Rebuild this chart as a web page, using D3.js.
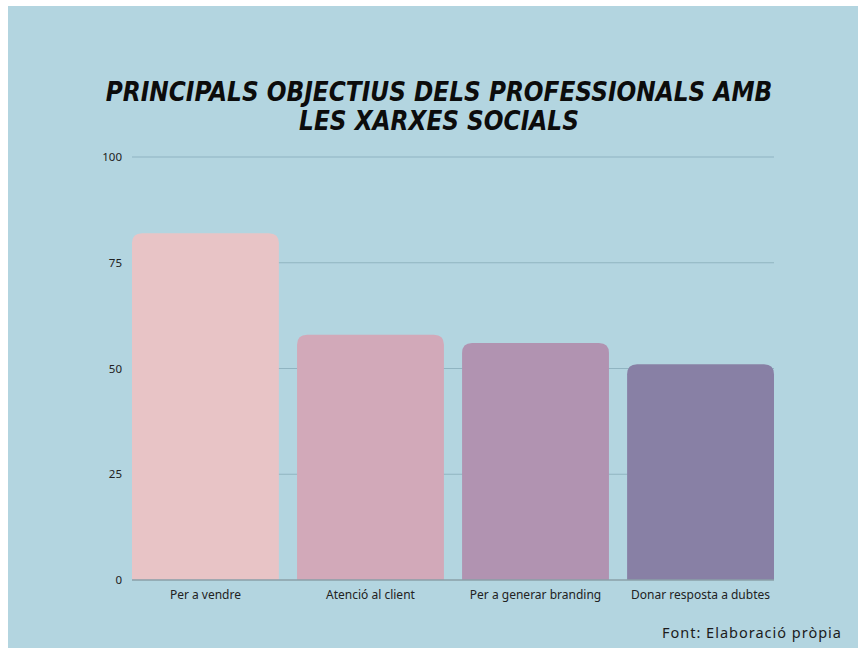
<!DOCTYPE html>
<html lang="ca">
<head>
  <meta charset="UTF-8">
  <title>Principals objectius dels professionals amb les xarxes socials</title>
  <script src="https://d3js.org/d3.v7.min.js"></script>
  <style>
    body {
      margin: 0;
      padding: 0;
      background: #fff;
      overflow: hidden;
    }
    svg { display: block; }
    .title {
      font-family: "DejaVu Sans Condensed", "DejaVu Sans", sans-serif;
      font-stretch: condensed;
      font-weight: bold;
      font-style: oblique;
      fill: #0c0c0c;
    }
    .tick-lbl, .cat-lbl {
      font-family: "Noto Sans", "Lato", sans-serif;
      fill: #222;
    }
    .source {
      font-family: "Noto Sans", "Lato", sans-serif;
      fill: #1c1c1c;
      letter-spacing: 1px;
    }
  </style>
</head>
<body>
<div id="chart"></div>
<script>
  const categories = ["Per a vendre", "Atenció al client", "Per a generar branding", "Donar resposta a dubtes"];
  const values = [82, 58, 56, 51];
  const barColors = ["#e8c4c6", "#d2a9b9", "#b193b1", "#8880a5"];
  const yTicks = [0, 25, 50, 75, 100];
  const titleLines = ["PRINCIPALS OBJECTIUS DELS PROFESSIONALS AMB", "LES XARXES SOCIALS"];

  const width = 858, height = 648;

  const svg = d3.select("#chart").append("svg")
    .attr("width", width)
    .attr("height", height);

  // blue panel (little white margin top/left)
  svg.append("rect")
    .attr("x", 8).attr("y", 6)
    .attr("width", width - 8).attr("height", height - 6)
    .attr("fill", "#b3d5e0");

  // title - size picked so the first line spans about 667px
  const titles = svg.selectAll(".title")
    .data(titleLines)
    .enter()
    .append("text")
    .attr("class", "title")
    .attr("x", 439)
    .attr("y", (d, i) => 101 + i * 29)
    .attr("text-anchor", "middle")
    .attr("font-size", 27)
    .text(d => d);
  const w0 = titles.node().getComputedTextLength();
  const fs = Math.min(31, 27 * 667 / w0);
  titles.attr("font-size", fs);

  const x = d3.scaleBand()
    .domain(categories)
    .range([132, 774])
    .paddingInner(0.11)
    .paddingOuter(0);

  const y = d3.scaleLinear()
    .domain([0, 100])
    .range([580, 157]);

  // gridlines
  svg.append("g")
    .selectAll("line")
    .data(yTicks.filter(d => d > 0))
    .enter()
    .append("line")
    .attr("x1", 132).attr("x2", 774)
    .attr("y1", d => y(d)).attr("y2", d => y(d))
    .attr("stroke", "#90b4c1")
    .attr("stroke-width", 1.2);

  // tick labels
  svg.append("g")
    .selectAll("text")
    .data(yTicks)
    .enter()
    .append("text")
    .attr("class", "tick-lbl")
    .attr("x", 122)
    .attr("y", d => y(d) + 4)
    .attr("text-anchor", "end")
    .attr("font-size", 11.5)
    .text(d => d);

  // bars, rounded top corners only
  const r = 10;
  function barPath(d, i) {
    const x0 = x(categories[i]), w = x.bandwidth();
    const y0 = y(d), y1 = y(0);
    return `M${x0},${y1} V${y0 + r} Q${x0},${y0} ${x0 + r},${y0} H${x0 + w - r} Q${x0 + w},${y0} ${x0 + w},${y0 + r} V${y1} Z`;
  }

  svg.append("g")
    .selectAll("path")
    .data(values)
    .enter()
    .append("path")
    .attr("d", barPath)
    .attr("fill", (d, i) => barColors[i]);

  // baseline
  svg.append("line")
    .attr("x1", 132).attr("x2", 774)
    .attr("y1", y(0)).attr("y2", y(0))
    .attr("stroke", "#8a9fa8")
    .attr("stroke-width", 1.5);

  // category labels
  svg.append("g")
    .selectAll("text")
    .data(categories)
    .enter()
    .append("text")
    .attr("class", "cat-lbl")
    .attr("x", d => x(d) + x.bandwidth() / 2)
    .attr("y", 599)
    .attr("text-anchor", "middle")
    .attr("font-size", 12)
    .text(d => d);

  svg.append("text")
    .attr("class", "source")
    .attr("x", 842)
    .attr("y", 638)
    .attr("text-anchor", "end")
    .attr("font-size", 14.5)
    .text("Font: Elaboració pròpia");
</script>
</body>
</html>
